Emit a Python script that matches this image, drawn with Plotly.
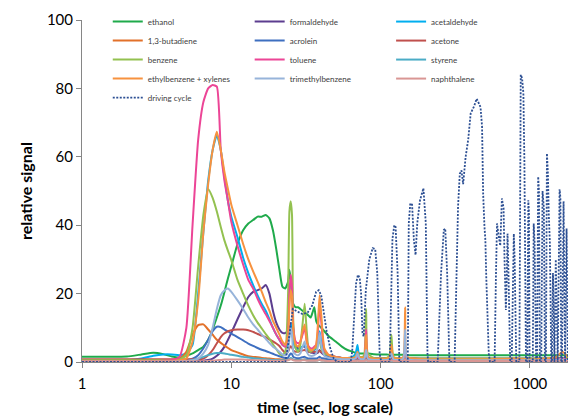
import plotly.graph_objects as go

# ---------------- data ----------------
time_s = [1, 1.5, 2, 2.5, 3, 3.5, 4, 4.5, 5, 5.5,
          6, 6.5, 7, 7.5, 8, 8.5, 9, 9.5, 10, 11,
          12, 13, 14, 15, 16, 17, 18, 19, 20, 21,
          22, 23, 24, 24.5, 25, 25.5, 26, 27, 28, 29,
          30, 31, 32, 33, 34, 35, 36, 37, 38, 39,
          40, 42, 45, 50, 55, 60, 65, 68, 70, 72,
          76, 78, 80, 82, 90, 100, 110, 115, 118, 122,
          135, 142, 146, 150, 170, 200, 300, 500, 800, 1000,
          1300, 1500, 1650, 1750, 1800]

ethanol = [1.5, 1.5, 1.6, 2.2, 2.7, 2.3, 1.6, 1.3, 1.8, 2.5,
           3.5, 4.5, 6.5, 9.5, 13, 16.5, 20.5, 24.5, 28, 34.5,
           38.5, 40.5, 41.5, 42.5, 42.5, 43, 42, 38.5, 33, 27,
           22, 21.5, 23.5, 27, 24, 19, 17, 16, 16, 15.5,
           15, 14.5, 14, 13.5, 13, 14.5, 16, 12, 11, 10.5,
           10, 9, 7.5, 6, 4.5, 3.5, 3, 2.7, 2.6, 2.5,
           2.5, 2.5, 2.6, 2.5, 2.3, 2.2, 2.2, 2.1, 2.3, 2.1,
           2.1, 2.1, 2.2, 2, 2, 2, 2, 2, 2, 2,
           2, 2, 2, 2, 2]

formaldehyde = [0.3, 0.3, 0.3, 0.3, 0.3, 0.3, 0.3, 0.3, 0.3, 0.3,
                0.3, 0.4, 0.6, 1, 1.8, 3, 4.5, 6.5, 8.5, 12.5,
                16, 19, 20.5, 21, 21.5, 22.5, 20, 15, 11.5, 9.5,
                8.5, 8.5, 9, 10, 11, 9, 6.5, 5, 4, 4,
                4.5, 4.5, 3.5, 3, 2.8, 2.7, 2.6, 2.5, 2.7, 3.5,
                2.8, 2, 1.5, 1.3, 1.2, 1.2, 1.2, 1.2, 1.5, 1.2,
                1.2, 1.2, 1.8, 1.2, 1.1, 1.1, 1.1, 1.1, 1.3, 1.1,
                1.1, 1.1, 1.4, 1.1, 1.1, 1, 1, 1, 1, 1,
                1, 1.1, 1.2, 1.1, 1]

acetaldehyde = [0.3, 0.3, 0.5, 1, 1.8, 2.2, 2.2, 2, 2.5, 5,
                20, 38, 53, 62, 66.4, 62, 54, 47, 42.5, 36.5,
                30.5, 26, 22.5, 19.5, 17, 15, 12.5, 10, 8, 6.5,
                5, 4.5, 5, 8, 10, 11, 6, 4, 3.5, 4,
                4.5, 5, 4, 3.5, 3.2, 3.2, 3.5, 4, 6, 9,
                6, 2.5, 1.8, 1.5, 1.2, 1.2, 1.5, 2.5, 5, 1.5,
                1, 1, 2, 1, 0.8, 0.8, 0.8, 0.8, 1.2, 0.8,
                0.8, 0.8, 1.2, 0.8, 0.7, 0.7, 0.7, 0.7, 0.7, 0.7,
                0.7, 0.8, 0.9, 0.8, 0.7]

butadiene = [0.2, 0.2, 0.2, 0.2, 0.2, 0.2, 0.3, 0.8, 3, 8,
             10.8, 11, 9.5, 8, 6.5, 5.6, 4.8, 4.1, 3.5, 2.8,
             2.2, 1.7, 1.5, 1.4, 1.2, 1.1, 1, 0.9, 0.8, 0.8,
             0.7, 0.7, 0.7, 0.8, 0.9, 0.9, 0.7, 0.6, 0.6, 0.6,
             0.6, 0.7, 0.6, 0.5, 0.5, 0.5, 0.5, 0.5, 0.5, 0.6,
             0.5, 0.5, 0.4, 0.4, 0.4, 0.4, 0.4, 0.4, 0.5, 0.4,
             0.4, 0.4, 0.6, 0.4, 0.4, 0.4, 0.4, 0.4, 0.5, 0.4,
             0.4, 0.4, 0.5, 0.4, 0.4, 0.4, 0.4, 0.4, 0.4, 0.4,
             0.4, 0.4, 0.5, 0.4, 0.4]

acrolein = [0.2, 0.2, 0.2, 0.2, 0.2, 0.2, 0.2, 0.3, 0.5, 1,
            2, 4, 6.5, 9, 10.3, 10.2, 9.5, 9, 8.3, 7.3,
            6.3, 5.4, 4.7, 4.1, 3.6, 3.2, 2.8, 2.4, 2, 1.7,
            1.4, 1.2, 1.3, 2, 2.5, 2.3, 1.5, 1.2, 1.1, 1.2,
            1.4, 1.5, 1.2, 1, 1, 1, 1, 1, 1.2, 1.5,
            1.2, 1, 0.8, 0.7, 0.7, 0.7, 0.7, 0.7, 0.8, 0.7,
            0.7, 0.7, 1, 0.7, 0.7, 0.6, 0.6, 0.6, 0.8, 0.6,
            0.6, 0.6, 0.8, 0.6, 0.6, 0.6, 0.6, 0.6, 0.6, 0.6,
            0.6, 0.6, 0.7, 0.6, 0.6]

acetone = [0.8, 0.8, 0.8, 0.8, 0.8, 0.8, 0.8, 0.8, 0.8, 0.8,
           0.8, 1, 2, 3.5, 5.5, 7.3, 8.4, 9, 9.3, 9.5,
           9.5, 9.3, 8.8, 8.2, 7.7, 7.2, 6.6, 6, 5.4, 4.7,
           3.5, 2.7, 3, 4, 4.6, 4.2, 3.4, 3, 3, 3.2,
           3.4, 3.5, 3.2, 3, 3, 3, 3, 3, 3, 3.2,
           3, 2.5, 2, 1.5, 1.2, 1, 1, 0.9, 1, 0.9,
           0.9, 0.9, 1.2, 0.9, 0.8, 0.8, 0.8, 0.8, 1, 0.8,
           0.8, 0.8, 1, 0.8, 0.8, 0.8, 0.8, 0.8, 0.8, 0.8,
           0.8, 0.8, 0.9, 0.8, 0.8]

benzene = [0.5, 0.5, 0.5, 0.5, 0.5, 0.5, 0.6, 0.8, 2, 10,
           28, 43, 50.5, 48, 44, 39.5, 35.5, 32.5, 29.8, 24,
           20, 16.5, 13.7, 11.5, 9.8, 8.2, 6.8, 5.2, 3.8, 2.5,
           2, 3, 20, 44, 47, 43, 12, 4, 3, 5,
           11, 17, 9, 3.5, 3, 3.5, 4, 4, 5, 7,
           4, 2.5, 2, 1.5, 1.2, 1.2, 1.2, 1.5, 2, 1.5,
           1.5, 2.5, 15.5, 2.5, 1.2, 1, 1.2, 2, 8, 1.5,
           1, 1.2, 1.8, 1.2, 1, 1, 1, 1, 1, 1,
           1, 1, 1, 1.2, 1.2]

toluene = [0.3, 0.3, 0.3, 0.3, 0.3, 0.4, 0.6, 1.5, 10, 40,
           65, 76, 80, 81, 80.5, 62, 53, 47, 41, 34,
           28.5, 24, 21.5, 18.5, 16, 14, 12, 10, 8, 6.5,
           5, 4.5, 8, 20, 25.5, 22, 10, 6, 5.5, 6,
           8, 10, 6, 4.5, 4, 4, 4.5, 5, 9, 17,
           12, 3.5, 2, 1.5, 1.2, 1, 1, 1.2, 1.5, 1,
           1, 1.5, 9.5, 1.5, 0.8, 0.7, 0.7, 1, 3, 1,
           0.7, 1, 4, 1, 0.6, 0.5, 0.5, 0.5, 0.6, 0.5,
           0.6, 0.8, 1, 0.8, 0.6]

styrene = [0.1, 0.1, 0.1, 0.1, 0.1, 0.1, 0.1, 0.2, 0.3, 0.6,
           1, 1.5, 2, 2.4, 2.6, 2.6, 2.5, 2.3, 2.1, 1.8,
           1.5, 1.3, 1.1, 1, 0.9, 0.8, 0.7, 0.6, 0.6, 0.5,
           0.5, 0.5, 0.6, 0.9, 1.2, 1, 0.6, 0.5, 0.5, 0.5,
           0.6, 0.7, 0.5, 0.4, 0.4, 0.4, 0.4, 0.4, 0.5, 0.7,
           0.5, 0.4, 0.3, 0.3, 0.3, 0.3, 0.3, 0.3, 0.5, 0.3,
           0.3, 0.3, 0.6, 0.3, 0.3, 0.3, 0.3, 0.3, 0.4, 0.3,
           0.3, 0.3, 0.5, 0.3, 0.3, 0.3, 0.3, 0.3, 0.3, 0.3,
           0.3, 0.3, 0.4, 0.3, 0.3]

ethylbenzene_xylenes = [0.2, 0.2, 0.2, 0.2, 0.2, 0.2, 0.3, 0.5, 1, 6,
                        18, 38, 52, 62, 67.3, 62, 55.5, 50.5, 46, 40,
                        34.5, 30, 26.5, 23.5, 20.5, 17.5, 15, 12, 10, 8,
                        6, 5, 8, 16, 21, 19, 9, 5, 4.5, 6,
                        9, 11, 6, 4, 3.5, 3.5, 4, 5, 11, 19.5,
                        14, 4, 2, 1.5, 1.2, 1.2, 1.2, 1.5, 3, 1.5,
                        1.2, 1.5, 8, 1.5, 1, 1, 1, 1.5, 5, 1.3,
                        1, 1.5, 16, 1.5, 1, 0.8, 0.8, 0.8, 1, 0.8,
                        1, 1.5, 3, 2, 1.5]

trimethylbenzene = [0.1, 0.1, 0.1, 0.1, 0.1, 0.1, 0.1, 0.2, 0.3, 0.5,
                    1, 2.5, 5, 10, 15.5, 19.5, 21, 21.5, 20.5, 18,
                    15.5, 13, 11, 9.5, 8, 6.8, 5.5, 4.5, 3.8, 3,
                    2.2, 2, 3, 7, 10, 8, 3, 2.2, 2, 2.5,
                    4.5, 6, 3, 2, 1.8, 1.8, 2, 2.5, 4.5, 8.5,
                    5, 1.8, 1.2, 1, 0.8, 0.8, 0.8, 1, 2.5, 1,
                    0.8, 1, 3.5, 1, 0.6, 0.6, 0.6, 0.8, 2.5, 0.7,
                    0.6, 1, 9.5, 1, 0.5, 0.5, 0.5, 0.5, 0.5, 0.5,
                    0.5, 0.6, 0.8, 0.6, 0.5]

naphthalene = [0.2, 0.2, 0.2, 0.2, 0.2, 0.2, 0.2, 0.2, 0.2, 0.2,
               0.2, 0.2, 0.3, 0.4, 0.5, 0.6, 0.7, 0.7, 0.7, 0.7,
               0.7, 0.6, 0.6, 0.5, 0.5, 0.5, 0.4, 0.4, 0.4, 0.4,
               0.4, 0.4, 0.5, 0.7, 0.8, 0.7, 0.5, 0.4, 0.4, 0.4,
               0.5, 0.5, 0.4, 0.4, 0.4, 0.4, 0.4, 0.4, 0.5, 0.8,
               0.5, 0.4, 0.3, 0.3, 0.3, 0.3, 0.3, 0.3, 0.4, 0.3,
               0.3, 0.3, 0.6, 0.3, 0.3, 0.3, 0.3, 0.3, 0.5, 0.3,
               0.3, 0.3, 0.8, 0.3, 0.3, 0.3, 0.3, 0.3, 0.3, 0.3,
               0.3, 0.3, 0.4, 0.3, 0.3]

cycle_time_s = [1, 23, 24, 25, 25.8, 27.6, 30, 32.5, 34.8, 37,
                38.5, 40, 41.5, 43.5, 46, 48.5, 51, 63, 64.5, 66.2,
                68.5, 70.5, 72.5, 74, 75.6, 77, 79.6, 84, 88.5, 92,
                95, 98.5, 101, 115, 117.5, 120, 123.5, 126, 130, 133.5,
                152, 154.4, 158, 162.5, 167, 171.4, 176, 183.6, 193.5, 200.7,
                206, 208, 241, 248, 254, 265, 271, 279, 289, 313,
                321, 330, 339, 348, 357, 371, 386, 401, 422, 440,
                455, 467, 478, 486, 496, 503, 510, 522, 530, 540,
                580, 592, 602, 617, 633, 649, 666, 676, 690, 700,
                708, 720, 738, 755, 770, 780, 790, 800, 810, 850,
                857, 868, 886, 904, 918, 927, 941, 960, 975, 985,
                995, 1045, 1060, 1075, 1100, 1115, 1136, 1150, 1165, 1190,
                1215, 1240, 1260, 1280, 1300, 1320, 1337, 1360, 1390, 1405,
                1427, 1445, 1460, 1490, 1518, 1535, 1580, 1600, 1620, 1640,
                1680, 1705, 1720, 1760, 1795]

cycle_speed = [0, 0, 5, 12, 15.5, 14.8, 14, 14.5, 16.5, 20.5,
               21, 19.5, 15, 9, 4, 1, 0, 0, 3, 13,
               23, 25.5, 24.5, 20, 8.5, 7.5, 21, 30, 33.3, 33,
               26, 2.5, 0, 0, 20, 36, 40, 39.5, 26, 0,
               0, 40.6, 46.4, 46, 35.7, 31.3, 40.6, 47.3, 50.8, 40.6,
               2.5, 0, 0, 13, 26, 38.6, 39, 26, 0, 0,
               26, 45.4, 55, 56, 52, 60, 65, 72.7, 74.7, 77,
               75.6, 74.5, 68.8, 49.3, 39.6, 35.7, 24.9, 14.2, 2.5, 0,
               0, 25, 40.5, 37, 34, 47.8, 45, 29.8, 15.2, 25,
               37.6, 24, 0, 0, 30, 37.5, 30, 5, 0, 0,
               40, 84, 83, 78.6, 59, 20, 0, 0, 47.3, 44,
               0, 0, 40.5, 35, 0, 0, 54.2, 50, 0, 0,
               50, 45, 0, 0, 61, 55, 43.4, 35, 0, 0,
               26, 0, 0, 30, 0, 0, 50.5, 48, 0, 0,
               47, 0, 0, 39, 0]

series_names = ["ethanol", "formaldehyde", "acetaldehyde",
                "1,3-butadiene", "acrolein", "acetone",
                "benzene", "toluene", "styrene",
                "ethylbenzene + xylenes", "trimethylbenzene", "naphthalene"]
series_values = [ethanol, formaldehyde, acetaldehyde,
                 butadiene, acrolein, acetone,
                 benzene, toluene, styrene,
                 ethylbenzene_xylenes, trimethylbenzene, naphthalene]
cycle_name = "driving cycle"

x_tick_values = [1, 10, 100, 1000]
x_tick_labels = ["1", "10", "100", "1000"]
y_tick_values = [0, 20, 40, 60, 80, 100]

# ---------------- styling ----------------
colors = ["#1FAA4B", "#5C3D8F", "#00AEEF",
          "#E2712A", "#3E6FC0", "#C0504D",
          "#93C150", "#EC4596", "#4BACC6",
          "#F7923F", "#97B4DA", "#D99694"]
cycle_color = "#2C4F93"
legend_ids = ["legend", "legend2", "legend3"]

fig = go.Figure()
for i, (name, vals) in enumerate(zip(series_names, series_values)):
    fig.add_trace(go.Scatter(
        x=time_s, y=vals, name=name, mode="lines",
        line=dict(color=colors[i], width=2, shape="spline", smoothing=0.5),
        legend=legend_ids[i % 3]))

fig.add_trace(go.Scatter(
    x=cycle_time_s, y=cycle_speed, name=cycle_name, mode="lines",
    line=dict(color=cycle_color, width=1.8, dash="2px,1.5px"),
    legend=legend_ids[len(series_names) % 3]))

font_family = "Lato, Carlito, 'Open Sans', sans-serif"
legend_common = dict(font=dict(size=8, color="#404040", family=font_family),
                     bgcolor="rgba(0,0,0,0)", borderwidth=0,
                     itemwidth=30, tracegroupgap=0,
                     yref="container", yanchor="top", y=0.983,
                     xanchor="left",
                     itemclick=False, itemdoubleclick=False)

fig.update_layout(
    width=571, height=416,
    margin=dict(l=82, r=3, t=20, b=54, autoexpand=False),
    paper_bgcolor="white", plot_bgcolor="white",
    font=dict(family=font_family, color="#000000"),
    showlegend=True,
    legend=dict(x=0.053, **legend_common),
    legend2=dict(x=0.345, **legend_common),
    legend3=dict(x=0.636, **legend_common),
    xaxis=dict(
        type="log", range=[0, 3.255],
        tickmode="array", tickvals=x_tick_values, ticktext=x_tick_labels,
        ticks="outside", ticklen=5, tickwidth=1, tickcolor="#868686",
        showline=True, linecolor="#868686", linewidth=1,
        showgrid=False, zeroline=False,
        tickfont=dict(size=15), ticklabelstandoff=3,
        title=dict(text="<b>time (sec, log scale)</b>", font=dict(size=16), standoff=10),
    ),
    yaxis=dict(
        range=[0, 100],
        tickmode="array", tickvals=y_tick_values,
        ticks="outside", ticklen=5, tickwidth=1, tickcolor="#868686",
        showline=True, linecolor="#868686", linewidth=1,
        showgrid=False, zeroline=False,
        tickfont=dict(size=15),
        title=dict(text="<b>relative signal</b>", font=dict(size=16), standoff=10),
    ),
)

# remove the browser's default 8px body margin so the figure sits at the window origin
fig.write_html("out.html",
               config={"displayModeBar": False},
               post_script="document.body.style.margin='0px';")
